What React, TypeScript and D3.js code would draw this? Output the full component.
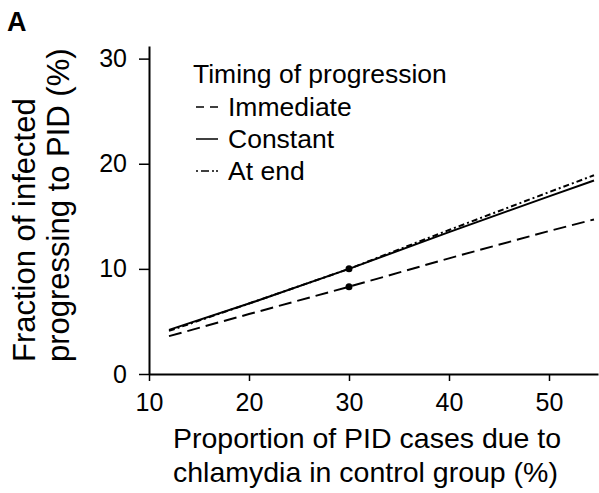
import { useEffect, useRef } from "react";
import * as d3 from "d3";

const W = 599;
const H = 493;

const X_TICKS = [10, 20, 30, 40, 50];
const Y_TICKS = [0, 10, 20, 30];

const XS = [12, 20, 30, 40, 50, 54.5];
const IMMEDIATE = [3.6, 5.7, 8.3, 11.0, 13.6, 14.7];
const CONSTANT = [4.2, 6.7, 10.0, 13.5, 16.9, 18.4];
const AT_END = [4.1, 6.7, 10.0, 13.7, 17.3, 18.9];

const MARK_X = 30;
const MARK_Y = [10.0, 8.3];

const SERIES = [
  { name: "Immediate", values: IMMEDIATE, dash: "13 6", key: "8 6" },
  { name: "Constant", values: CONSTANT, dash: null, key: null },
  { name: "At end", values: AT_END, dash: "6 3 2 3", key: "2 3 8 3 2" }
];

const FONT = "'Liberation Sans', Arial, sans-serif";

export default function App() {
  const svgRef = useRef<SVGSVGElement | null>(null);

  useEffect(() => {
    const svg = d3.select(svgRef.current);
    svg.selectAll("*").remove();

    const x = d3.scaleLinear().domain([10, 54.9]).range([149, 598]);
    const y = d3.scaleLinear().domain([0, 31.2]).range([374, 46]);

    svg.append("rect").attr("width", W).attr("height", H).attr("fill", "#fff");

    // axes
    const xAxis = svg
      .append("g")
      .attr("transform", `translate(0, ${y(0)})`)
      .call(d3.axisBottom(x).tickValues(X_TICKS).tickSize(7).tickSizeOuter(0).tickPadding(12));
    const yAxis = svg
      .append("g")
      .attr("transform", `translate(${x(10)}, 0)`)
      .call(d3.axisLeft(y).tickValues(Y_TICKS).tickSize(10).tickSizeOuter(0).tickPadding(12));

    [xAxis, yAxis].forEach((g) => {
      g.select(".domain").attr("stroke", "#000").attr("stroke-width", 2);
      g.selectAll(".tick line").attr("stroke", "#000").attr("stroke-width", 1.5);
      g.selectAll("text")
        .attr("fill", "#000")
        .attr("font-family", FONT)
        .attr("font-size", 25);
    });

    // lines
    const line = d3
      .line<number>()
      .x((_, i) => x(XS[i]))
      .y((d) => y(d));

    SERIES.forEach((s) => {
      svg
        .append("path")
        .datum(s.values)
        .attr("fill", "none")
        .attr("stroke", "#000")
        .attr("stroke-width", 2)
        .attr("stroke-dasharray", s.dash)
        .attr("d", line);
    });

    MARK_Y.forEach((v) => {
      svg.append("circle").attr("cx", x(MARK_X)).attr("cy", y(v)).attr("r", 3.5).attr("fill", "#000");
    });

    // legend
    svg
      .append("text")
      .attr("x", 193)
      .attr("y", 83)
      .attr("font-family", FONT)
      .attr("font-size", 26.5)
      .text("Timing of progression");

    SERIES.forEach((s, i) => {
      const cy = 107 + i * 32;
      svg
        .append("line")
        .attr("x1", 196)
        .attr("x2", 218)
        .attr("y1", cy)
        .attr("y2", cy)
        .attr("stroke", "#000")
        .attr("stroke-width", 1.5)
        .attr("stroke-dasharray", s.key);
      svg
        .append("text")
        .attr("x", 228)
        .attr("y", cy + 9)
        .attr("font-family", FONT)
        .attr("font-size", 26.5)
        .text(s.name);
    });

    // panel letter
    svg
      .append("text")
      .attr("x", 7)
      .attr("y", 31)
      .attr("font-family", FONT)
      .attr("font-size", 27)
      .attr("font-weight", 700)
      .text("A");

    // axis titles
    const xTitle = svg.append("text").attr("font-family", FONT).attr("font-size", 28.5);
    xTitle.append("tspan").attr("x", 173).attr("y", 448).text("Proportion of PID cases due to");
    xTitle.append("tspan").attr("x", 173).attr("y", 482).text("chlamydia in control group (%)");

    const yTitle = svg
      .append("text")
      .attr("font-family", FONT)
      .attr("font-size", 31)
      .attr("transform", "translate(0, 362) rotate(-90)");
    yTitle.append("tspan").attr("x", 0).attr("y", 35).text("Fraction of infected");
    yTitle.append("tspan").attr("x", 0).attr("y", 69).text("progressing to PID (%)");
  }, []);

  return (
    <svg
      ref={svgRef}
      width={W}
      height={H}
      style={{ position: "absolute", left: 0, top: 0, display: "block" }}
    />
  );
}
